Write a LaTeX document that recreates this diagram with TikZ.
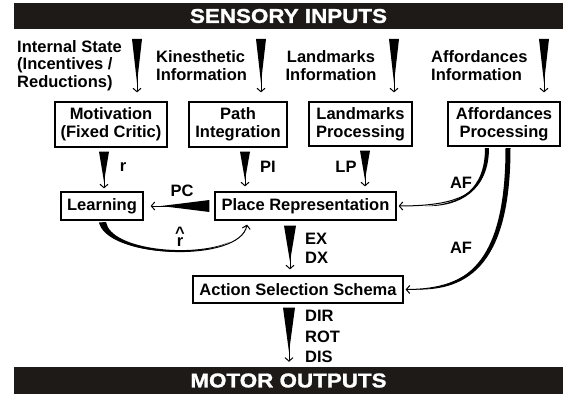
\documentclass[tikz,border=0pt]{standalone}
\usepackage{fontspec}
\usepackage{graphicx}
\setmainfont{Liberation Sans}
\usetikzlibrary{calc,arrows.meta}
\definecolor{barcol}{HTML}{1E1A18}
% tapered wedge arrow: start, end, half width, start gap, end gap
\newcommand\wedgearr[5]{%
  \coordinate (w0) at (#1);
  \coordinate (w1) at (#2);
  \coordinate (wA) at ($(w0)!#4!(w1)$);
  \coordinate (wB) at ($(w1)!#5!(w0)$);
  \fill ($(wA)!#3!90:(wB)$) -- ($(wA)!#3!-90:(wB)$) -- ($(wA)!0.82!(wB)$) -- cycle;
  \draw[barb] ($(wA)!0.6!(wB)$) -- (wB);
}
\begin{document}
\begin{tikzpicture}[x=1pt,y=-1pt,
  font=\bfseries\fontsize{16.5}{18}\selectfont,
  box/.style={draw, line width=1.2pt, inner sep=0pt, align=center},
  bar/.style={fill=barcol, text=white, inner sep=0pt},
  barfont/.style={font=\bfseries\fontsize{20}{22}\selectfont\addfontfeature{FakeBold=1.2}},
  barb/.style={-{Straight Barb[length=3.5pt,width=8pt]}, line width=1pt},
  lbl/.style={inner sep=0pt, align=left}]
\useasboundingbox (0,0) rectangle (568,396);

% bars
\node[bar, barfont, minimum width=549pt, minimum height=26pt] (sens) at (288.5,16) {\scalebox{1.12}[1]{SENSORY INPUTS}};
\node[bar, barfont, minimum width=549pt, minimum height=27pt] (motor) at (288.5,380.5) {\scalebox{1.12}[1]{MOTOR OUTPUTS}};

% input labels
\node[lbl, anchor=west, font=\bfseries\fontsize{16.5}{17.5}\selectfont] (l1) at (17,65.5) {Internal State\\(Incentives /\\Reductions)};
\node[lbl, anchor=west] (l2) at (156,65.7) {Kinesthetic\\Information};
\node[lbl, align=center] (l3) at (331,65.2) {Landmarks\\Information};
\node[lbl, anchor=west] (l4) at (431,65.2) {Affordances\\Information};

% boxes
\node[box, minimum width=112pt, minimum height=45pt] (mot) at (111,124.5) {Motivation\\(Fixed Critic)};
\node[box, minimum width=98pt, minimum height=45pt] (pi) at (238,124.5) {Path\\Integration};
\node[box, minimum width=103pt, minimum height=44pt] (lp) at (360.5,124) {Landmarks\\Processing};
\node[box, minimum width=112pt, minimum height=44pt] (aff) at (504,124) {Affordances\\Processing};
\node[box, minimum width=82pt, minimum height=28pt] (lrn) at (102,206) {Learning};
\node[box, minimum width=181pt, minimum height=28pt] (pr) at (305.5,206) {Place Representation};
\node[box, minimum width=210pt, minimum height=27pt] (act) at (298,289.5) {Action Selection Schema};

% input arrows
\coordinate (i1) at (137,29);
\coordinate (i2) at (261,29);
\coordinate (i3) at (394,29);
\coordinate (i4) at (544,29);
\wedgearr{i1}{mot.north -| i1}{5pt}{10pt}{9pt}
\wedgearr{i2}{pi.north -| i2}{5pt}{10pt}{9pt}
\wedgearr{i3}{lp.north -| i3}{5pt}{10pt}{9pt}
\wedgearr{i4}{aff.north -| i4}{5pt}{10pt}{9pt}

% inner arrows
\coordinate (rS) at ([xshift=-7pt]mot.south);
\coordinate (piS) at ([xshift=7pt]pi.south);
\coordinate (lpS) at ([xshift=4.5pt]lp.south);
\coordinate (exS) at ([xshift=-15.5pt]pr.south);
\coordinate (dirS) at ([xshift=-9pt]act.south);
\wedgearr{rS}{lrn.north -| rS}{5pt}{4pt}{3pt}
\wedgearr{piS}{pr.north -| piS}{5pt}{4pt}{5pt}
\wedgearr{lpS}{pr.north -| lpS}{5pt}{4pt}{5pt}
\wedgearr{exS}{act.north -| exS}{6pt}{5pt}{6pt}
\wedgearr{dirS}{motor.north -| dirS}{6pt}{4pt}{5pt}
\wedgearr{pr.west}{lrn.east}{6pt}{5pt}{7pt}

% r-hat feedback curve
\coordinate (rhS) at ([yshift=-2pt]lrn.south);
\coordinate (rhE) at ([xshift=-58.5pt,yshift=-4pt]pr.south);
\fill (99,222.5) .. controls (106,252) and (193,260.6) .. (230,241.8)
      .. controls (193,258) and (111,250) .. (106,222) -- cycle;
\draw[barb] (rhS) .. controls +(8,36) and +(-7,38) .. (rhE);

% affordance curves
\coordinate (af1S) at ([xshift=-17pt,yshift=-2pt]aff.south);
\coordinate (af1E) at ([xshift=2pt]pr.east);
\fill (485,148) .. controls (485,190) and (460,204.5) .. (425,206)
      .. controls (460,207.5) and (489,190) .. (489,148) -- cycle;
\draw[barb] (af1S) .. controls +(0,42) and +(67,0) .. (af1E);

\coordinate (af2S) at ([xshift=4pt,yshift=-2pt]aff.south);
\coordinate (af2E) at ([xshift=2pt]act.east);
\fill (505.5,148) .. controls (505.5,258) and (470,287.8) .. (415,289.5)
      .. controls (470,291.2) and (510.5,262) .. (510.5,148) -- cycle;
\draw[barb] (af2S) .. controls +(0,112) and +(65,0) .. (af2E);

% connector labels
\node[inner sep=0pt] (rl) at (123,167) {r};
\node[inner sep=0pt] (pil) at (268,167) {PI};
\node[inner sep=0pt] (lpl) at (346,167) {LP};
\node[inner sep=0pt] (pcl) at (182,191) {PC};
\node[inner sep=0pt, anchor=base] (rhl) at (180,246) {\ooalign{\hfil\raisebox{7.6pt}{\textasciicircum}\hfil\cr\hfil r\hfil\cr}};
\node[inner sep=0pt] (af1l) at (461,183) {AF};
\node[inner sep=0pt] (af2l) at (461,248) {AF};
\node[lbl, anchor=west, font=\bfseries\fontsize{16.5}{18.5}\selectfont] (exl) at (305,248.3) {EX\\DX};
\node[lbl, anchor=west, font=\bfseries\fontsize{16.5}{20.7}\selectfont] (dirl) at (305,336.5) {DIR\\ROT\\DIS};
\end{tikzpicture}
\end{document}
